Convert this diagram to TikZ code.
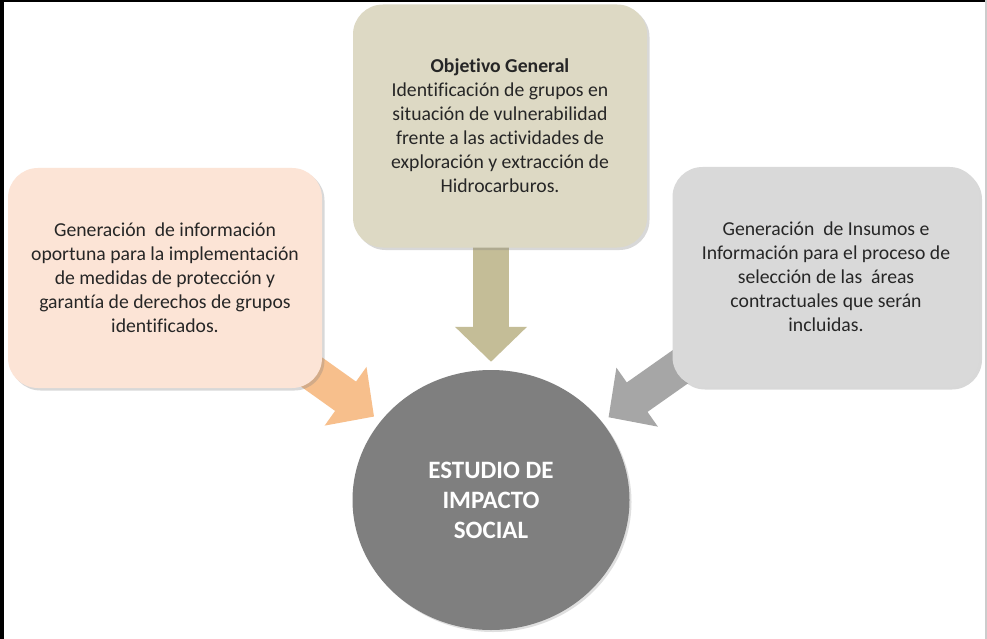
\documentclass[tikz,border=0pt]{standalone}
\usepackage{fontspec}
\setmainfont{Carlito}[Ligatures=NoCommon]
\usetikzlibrary{arrows.meta, positioning, shapes.geometric, calc, shadows, backgrounds}

\definecolor{peach}{HTML}{FCE4D6}
\definecolor{sand}{HTML}{DDD9C4}
\definecolor{silver}{HTML}{D9D9D9}
\definecolor{slate}{HTML}{7F7F7F}
\definecolor{orangearr}{HTML}{F7BF8C}
\definecolor{sandarr}{HTML}{C4BD97}
\definecolor{grayarr}{HTML}{A6A6A6}

\begin{document}
\begin{tikzpicture}[x=1pt, y=-1pt,
    box/.style={rectangle, rounded corners=30pt, align=center, text=black!85,
        font=\fontsize{19.7}{24}\selectfont,
        drop shadow={opacity=0.3, shadow xshift=2.5pt, shadow yshift=-2.5pt}},
    fatarrow/.style={line width=36pt, -{Triangle[length=35pt, width=70pt]}, shorten >=8pt}]
    \useasboundingbox (0,0) rectangle (987,639);

    % Three source boxes
    \node[box, fill=peach, minimum width=314, minimum height=220] (left) at (165,278)
        {Generación\ \ de información\\oportuna para la implementación\\de medidas de protección y\\garantía de derechos de grupos\\identificados.};
    \node[box, fill=sand, minimum width=294, minimum height=243] (top) at (500,126)
        {\textbf{Objetivo General}\\Identificación de grupos en\\situación de vulnerabilidad\\frente a las actividades de\\exploración y extracción de\\Hidrocarburos.};
    \node[box, fill=silver, minimum width=307, minimum height=220] (right) at (826,277)
        {Generación\ \ de Insumos e\\Información para el proceso de\\selección de las\ \ áreas\\contractuales que serán\\incluidas.};

    % Central circle
    \node[ellipse, fill=slate, minimum width=277, minimum height=260, align=center,
        text=white, font=\fontsize{25}{30}\selectfont\bfseries,
        drop shadow={opacity=0.25, shadow xshift=2pt, shadow yshift=-2pt}] (circ) at (491,500)
        {ESTUDIO DE\\IMPACTO\\SOCIAL};

    % Arrows behind the boxes
    \begin{scope}[on background layer]
        \fill[white] (0,0) rectangle (987,639);
        \draw[fatarrow, orangearr] ($(left.south east)+(-37,-35)$) -- (circ);
        \draw[fatarrow, sandarr] ($(top.south -| circ.north)+(0,-20)$) -- (circ.north);
        \draw[fatarrow, grayarr] ($(right.south west)+(33,-38)$) -- (circ);
    \end{scope}

    % Frame
    \draw[line width=2pt] (0,1) -- (987,1);
    \draw[line width=3.5pt] (2,0) -- (2,639);
    \draw[black!20, line width=1.5pt] (986,0) -- (986,639);
\end{tikzpicture}
\end{document}
